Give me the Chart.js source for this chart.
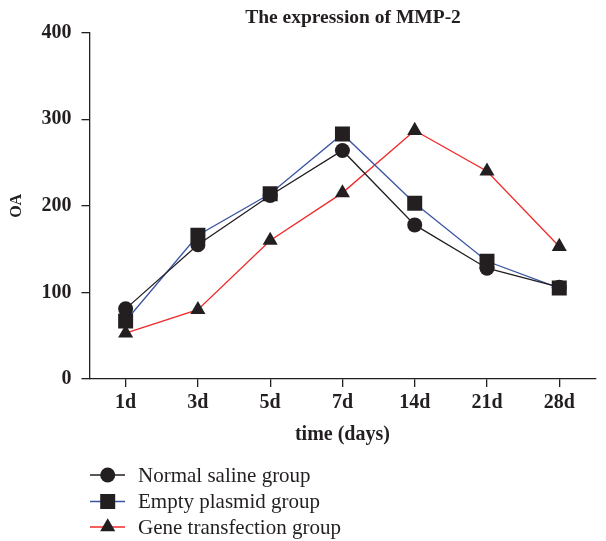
<!DOCTYPE html>
<html>
<head>
<meta charset="utf-8">
<script src="https://cdn.jsdelivr.net/npm/chart.js@4"></script>
<style>
html,body{margin:0;padding:0;background:#fff;}
canvas{display:block;}
</style>
</head>
<body>
<canvas id="c" width="606" height="541"></canvas>
<script>
const categories = ["1d", "3d", "5d", "7d", "14d", "21d", "28d"];
const normalSaline = [81, 155, 212, 264, 178, 128, 106];
const emptyPlasmid = [67, 166, 214, 283, 203, 136, 105];
const geneTransfection = [53, 80, 160, 215, 287, 240, 153];
const yTicks = [0, 100, 200, 300, 400];
const seriesNames = ["Normal saline group", "Empty plasmid group", "Gene transfection group"];

const INK = '#231f20';
const BLUE = '#3b55a5';
const RED = '#f02a2a';
const SERIF = '"Liberation Serif", "DejaVu Serif", serif';

const seriesStyles = [
  {color: INK, point: 'circle', r: 7.5},
  {color: BLUE, point: 'rect', r: 10.6},
  {color: RED, point: 'triangle', r: 8.7}
];

function drawMarker(ctx, style, x, y) {
  ctx.save();
  ctx.fillStyle = INK;
  ctx.beginPath();
  if (style.point === 'circle') {
    ctx.arc(x, y, style.r, 0, Math.PI * 2);
  } else if (style.point === 'rect') {
    const s = Math.SQRT1_2 * style.r;
    ctx.rect(x - s, y - s, 2 * s, 2 * s);
  } else {
    const r = style.r;
    for (let i = 0; i < 3; i++) {
      const a = -Math.PI / 2 + i * 2 * Math.PI / 3;
      const px = x + r * Math.cos(a), py = y + r * Math.sin(a);
      if (i === 0) ctx.moveTo(px, py); else ctx.lineTo(px, py);
    }
    ctx.closePath();
  }
  ctx.fill();
  ctx.restore();
}

const decor = {
  id: 'decor',
  afterDraw(chart) {
    const ctx = chart.ctx;
    ctx.save();
    ctx.fillStyle = INK;
    ctx.font = 'bold 19.5px ' + SERIF;
    ctx.textAlign = 'center';
    ctx.textBaseline = 'middle';
    ctx.fillText('The expression of MMP-2', 353, 18);
    // legend
    const rows = [475, 501.5, 527];
    ctx.font = '21px ' + SERIF;
    ctx.textAlign = 'left';
    seriesNames.forEach((name, i) => {
      const st = seriesStyles[i];
      const y = rows[i];
      ctx.strokeStyle = st.color;
      ctx.lineWidth = 1.4;
      ctx.beginPath();
      ctx.moveTo(90, y);
      ctx.lineTo(125, y);
      ctx.stroke();
      drawMarker(ctx, st, 107.7, y);
      ctx.fillStyle = INK;
      ctx.fillText(name, 138, y + 1);
    });
    ctx.restore();
  }
};

const allSeries = [normalSaline, emptyPlasmid, geneTransfection];

new Chart(document.getElementById('c'), {
  type: 'line',
  data: {
    labels: categories,
    datasets: allSeries.map((vals, i) => ({
      label: seriesNames[i],
      data: vals,
      borderColor: seriesStyles[i].color,
      borderWidth: 1.3,
      backgroundColor: INK,
      pointBackgroundColor: INK,
      pointBorderColor: INK,
      pointBorderWidth: 0,
      pointStyle: seriesStyles[i].point,
      pointRadius: seriesStyles[i].r,
      pointHoverRadius: seriesStyles[i].r,
      tension: 0,
      fill: false
    }))
  },
  options: {
    responsive: false,
    animation: false,
    events: [],
    layout: {padding: {left: 0, right: -3, top: 32.7, bottom: 92}},
    plugins: {
      legend: {display: false},
      title: {display: false},
      tooltip: {enabled: false}
    },
    scales: {
      x: {
        type: 'category',
        offset: true,
        afterFit(scale) { scale.height = 70; },
        grid: {display: true, drawOnChartArea: false, drawTicks: true, tickLength: 8, color: INK, lineWidth: 1.3, offset: false},
        border: {display: true, color: INK, width: 1.3},
        ticks: {color: INK, font: {family: SERIF, size: 20, weight: 'bold'}, padding: 4, maxRotation: 0, autoSkip: false},
        title: {display: true, text: 'time (days)', color: INK, font: {family: SERIF, size: 20, weight: 'bold'}, padding: {top: 0, bottom: 2}}
      },
      y: {
        min: 0,
        max: 400,
        afterFit(scale) { scale.width = 89.5; },
        afterBuildTicks(scale) { scale.ticks = yTicks.map(v => ({value: v})); },
        grid: {display: true, drawOnChartArea: false, drawTicks: true, tickLength: 8, color: INK, lineWidth: 1.3},
        border: {display: true, color: INK, width: 1.3},
        ticks: {color: INK, font: {family: SERIF, size: 20, weight: 'bold'}, padding: 10},
        title: {display: true, text: 'OA', color: INK, font: {family: SERIF, size: 16, weight: 'bold'}, padding: {top: 7, bottom: 0}}
      }
    }
  },
  plugins: [decor]
});
</script>
</body>
</html>
